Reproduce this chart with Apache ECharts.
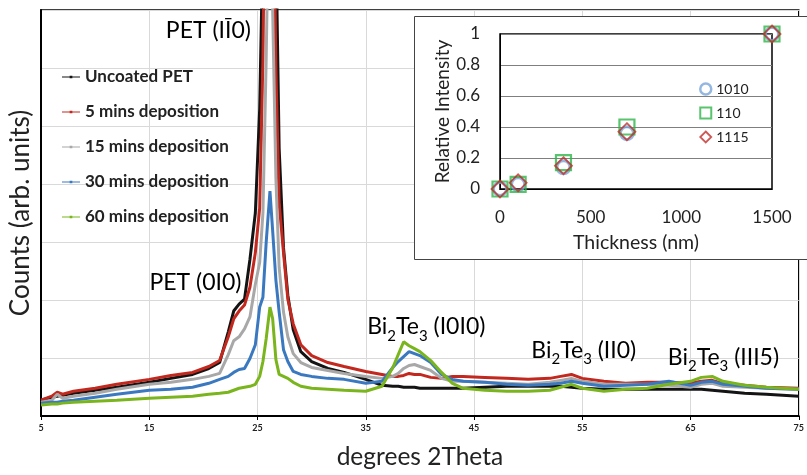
<!DOCTYPE html>
<html><head><meta charset="utf-8">
<script src="https://cdn.jsdelivr.net/npm/echarts@6/dist/echarts.min.js"></script>
<style>html,body{margin:0;padding:0;background:#fff}#c{width:807px;height:475px}</style>
</head><body><div id="c"></div><script>
// ---- main XRD data (degrees 2Theta vs counts, arb. units) ----
const angles = [5,6,6.5,7,8, 10,12,15,17,19, 20.5,21.5,22.3,22.8,23.3, 23.8,24.3,24.8,25.2,25.5, 25.8,26.15,26.4,26.7,27.0, 27.4,27.8,28.3,29,30, 31.5,33,35,36.5,37.5, 38,38.5,39,39.5,40, 41,42,43,44,46, 48,50,52,53,54, 55,57,59,61,63, 65,66,67,68,70, 72,75];
const uncoatedPET = [16,19,20,21,23, 26,29,34,38,42, 48,54,85,106,113, 118,158,205,310,480, 700,800,700,480,270, 170,122,87,65,55, 48,44,37,31,30, 30,29,29,29,28, 28,28,28,28,29, 30,30,30,30,29, 28,27,27,27,27, 27,27,26,25,23, 22,20];
const dep5 = [16,20,24,22,25, 28,32,37,41,44, 50,56,80,98,106, 112,130,165,210,360, 650,750,600,350,215, 165,118,93,72,61, 54,50,45,42,40, 40,41,43,42,42, 39,38,40,40,39, 38,37,38,40,42, 38,35,33,34,34, 33,35,36,33,31, 29,28];
const dep15 = [14,16,22,18,20, 23,27,32,34,37, 40,43,62,76,80, 88,100,133,155,205, 360,600,410,240,150, 105,80,63,54,49, 46,43,40,38,40, 43,48,51,52,50, 46,38,35,35,34, 33,32,34,36,38, 35,32,32,32,31, 29,32,33,30,29, 28,27];
const dep30 = [13,14,14,15,16, 19,22,26,27,29, 33,37,40,44,47, 48,58,72,110,120, 175,227,187,137,105, 67,55,45,42,40, 38,37,33,35,49, 55,60,65,63,61, 54,42,37,35,34, 32,31,32,33,35, 33,30,31,32,35, 31,34,35,32,30, 28,27];
const dep60 = [11,12,12,13,14, 15,16,18,19,20, 22,23,24,26,28, 29,30,32,40,55, 78,110,98,57,42, 40,38,34,30,28, 27,26,25,30,49, 62,75,71,68,65, 56,44,33,28,26, 25,25,26,29,32, 28,25,27,28,32, 35,39,40,35,31, 29,27];
const seriesNames = ['Uncoated PET','5 mins deposition','15 mins deposition','30 mins deposition','60 mins deposition'];
const xTickLabels = [5,15,25,35,45,55,65,75];

// ---- inset data ----
const thickness = [0,100,350,700,1500];
const rel1010 = [0,0.03,0.14,0.36,1.0];
const rel110 = [0,0.03,0.17,0.40,1.0];
const rel1115 = [0,0.04,0.15,0.37,1.0];
const insetNames = ['1010','110','1115'];

// ---- annotations (data coordinates) ----
const annotations = [
  {parts:[['n','PET (IĪ0)']], x:20.46, y:384},
  {parts:[['n','PET (0I0)']], x:19.27, y:130},
  {parts:[['n','Bi'],['s','2'],['n','Te'],['s','3'],['n',' (I0I0)']], x:40.59, y:85},
  {parts:[['n','Bi'],['s','2'],['n','Te'],['s','3'],['n',' (II0)']], x:55.14, y:61},
  {parts:[['n','Bi'],['s','2'],['n','Te'],['s','3'],['n',' (III5)']], x:68.04, y:54}
];

const FONT = 'Lato';
const colors = ['#141414','#c3281f','#a8a8a8','#3a79bf','#7ab51d'];
const mainData = [uncoatedPET, dep5, dep15, dep30, dep60];
const pairs = (xs, ys) => xs.map((x,i)=>[x, ys[i]]);

const chart = echarts.init(document.getElementById('c'));
const legendIcon = 'path://M0,1H20V2H0Z M8.5,0H11.5V3H8.5Z';

const option = {
  animation:false,
  backgroundColor:'#fff',
  textStyle:{fontFamily:FONT},
  grid:[
    {left:41,right:1,top:10,bottom:55,show:true,borderColor:'#000',borderWidth:1.5,z:0},
    {left:500,right:35,top:34,bottom:286,show:true,borderColor:'#000',borderWidth:1.5,z:20}
  ],
  xAxis:[
    {type:'value',gridIndex:0,min:xTickLabels[0],max:xTickLabels[xTickLabels.length-1],interval:10,
     axisLine:{lineStyle:{color:'#000',width:2}},
     axisTick:{show:true,length:4,lineStyle:{color:'#000'}},
     axisLabel:{fontSize:9,fontWeight:'bold',color:'#222',margin:8,showMaxLabel:true,showMinLabel:true},
     splitLine:{lineStyle:{color:'#d9d9d9'}},
     name:'degrees 2Theta',nameLocation:'middle',nameGap:29,nameTextStyle:{fontSize:24.5,color:'#222',fontFamily:FONT}},
    {type:'value',gridIndex:1,min:0,max:1500,interval:500,z:20,
     axisLine:{lineStyle:{color:'#000'}},axisTick:{show:false},
     axisLabel:{fontSize:17,color:'#222',margin:20,formatter:v=>String(v)},
     splitLine:{show:false},
     name:'Thickness (nm)',nameLocation:'middle',nameGap:44,nameTextStyle:{fontSize:19.5,color:'#222',fontFamily:FONT}}
  ],
  yAxis:[
    {type:'value',gridIndex:0,min:0,max:410,interval:410/7,
     axisLine:{show:true,lineStyle:{color:'#000',width:2}},axisTick:{show:false},axisLabel:{show:false},
     splitLine:{lineStyle:{color:'#d9d9d9'}},
     name:'Counts (arb. units)',nameLocation:'middle',nameGap:7,nameRotate:90,nameTextStyle:{fontSize:26,color:'#222',fontFamily:FONT}},
    {type:'value',gridIndex:1,min:0,max:1,interval:0.2,z:20,
     axisLine:{show:true,lineStyle:{color:'#000'}},axisTick:{show:false},
     axisLabel:{fontSize:17,color:'#222',margin:20},
     splitLine:{lineStyle:{color:'#7f7f7f'}},
     name:'Relative Intensity',nameLocation:'middle',nameGap:47,nameRotate:90,nameTextStyle:{fontSize:19,color:'#222',fontFamily:FONT}}
  ],
  legend:[
    {orient:'vertical',left:62,top:67,padding:0,itemWidth:18,itemHeight:3,itemGap:15,
     textStyle:{fontFamily:FONT,fontWeight:'bold',fontSize:17,color:'#222',lineHeight:20},
     data:seriesNames.map(n=>({name:n,icon:legendIcon}))},
    {orient:'vertical',left:699,top:81,padding:0,itemWidth:11,itemHeight:11,itemGap:8,z:30,
     textStyle:{fontFamily:FONT,fontSize:14,color:'#222',lineHeight:16},
     data:[
       {name:'1010',icon:'circle',itemStyle:{color:'rgba(0,0,0,0)',borderColor:'#79a5da',borderWidth:2.5}},
       {name:'110',icon:'rect',itemStyle:{color:'rgba(0,0,0,0)',borderColor:'#2fb54a',borderWidth:2}},
       {name:'1115',icon:'diamond',itemStyle:{color:'rgba(0,0,0,0)',borderColor:'#c0302a',borderWidth:1.8}}
     ]}
  ],
  graphic:[
    {type:'rect',z:5,shape:{x:414.5,y:16.5,width:400,height:243},style:{fill:'#fff',stroke:'#444',lineWidth:1}}
  ],
  series:[]
};

mainData.forEach((d,i)=>{
  option.series.push({
    type:'line',name:seriesNames[i],xAxisIndex:0,yAxisIndex:0,
    data:pairs(angles,d),showSymbol:false,symbol:'circle',symbolSize:3,
    lineStyle:{width:3,color:colors[i]},itemStyle:{color:colors[i]},
    clip:true,z:2+i*0.1
  });
});
const insetDefs = [
  {name:'1010',data:rel1010,symbol:'circle',size:13,color:'#79a5da',bw:3},
  {name:'110',data:rel110,symbol:'rect',size:15,color:'#2fb54a',bw:2.2},
  {name:'1115',data:rel1115,symbol:'diamond',size:17,color:'#c0302a',bw:1.8}
];
insetDefs.forEach(s=>{
  option.series.push({
    type:'scatter',name:s.name,xAxisIndex:1,yAxisIndex:1,z:25,
    data:pairs(thickness,s.data),symbol:s.symbol,symbolSize:s.size,
    itemStyle:{color:'rgba(0,0,0,0)',borderColor:s.color,borderWidth:s.bw}
  });
});

chart.setOption(option);

const rich = {
  n:{fontFamily:FONT,fontSize:23,color:'#222',lineHeight:23,padding:[0,0,5,0],verticalAlign:'bottom'},
  s:{fontFamily:FONT,fontSize:15,color:'#222',lineHeight:15,verticalAlign:'bottom'}
};
const g = option.graphic.slice();
annotations.forEach(a=>{
  const p = chart.convertToPixel({gridIndex:0},[a.x,a.y]);
  g.push({type:'text',z:10,x:p[0],y:p[1],
    style:{text:a.parts.map(t=>'{'+t[0]+'|'+t[1]+'}').join(''),rich:rich,align:'center',verticalAlign:'middle'}});
});
chart.setOption({graphic:g});
</script></body></html>
